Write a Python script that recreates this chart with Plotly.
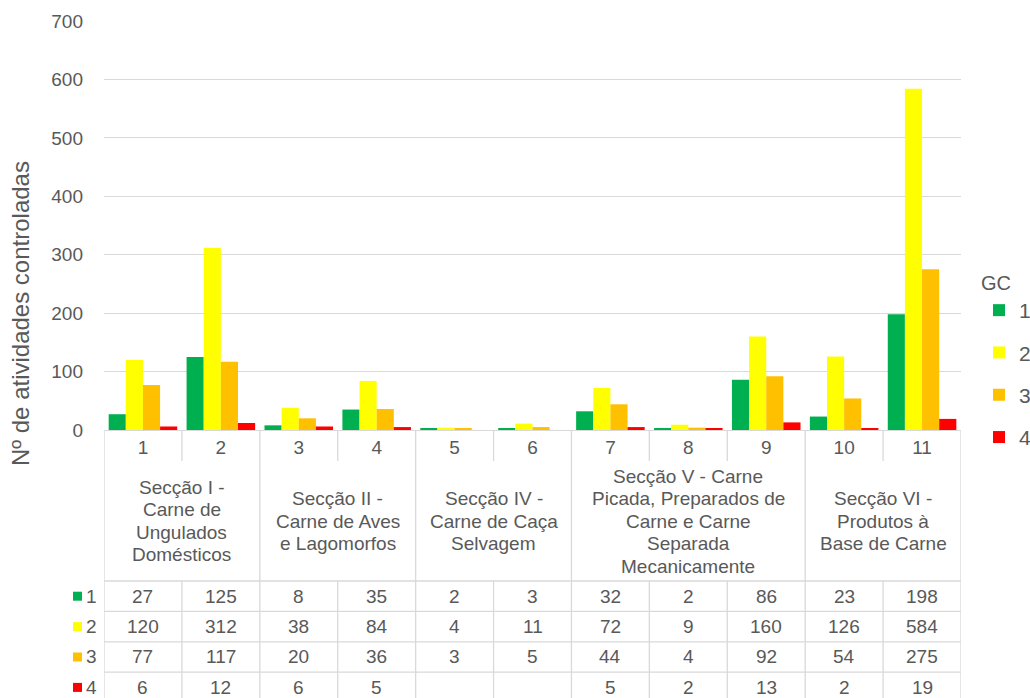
import plotly.graph_objects as go

# ---- data -------------------------------------------------------------
categories = ["1", "2", "3", "4", "5", "6", "7", "8", "9", "10", "11"]
gc1 = [27, 125, 8, 35, 2, 3, 32, 2, 86, 23, 198]
gc2 = [120, 312, 38, 84, 4, 11, 72, 9, 160, 126, 584]
gc3 = [77, 117, 20, 36, 3, 5, 44, 4, 92, 54, 275]
gc4 = [6, 12, 6, 5, None, None, 5, 2, 13, 2, 19]
series_names = ["1", "2", "3", "4"]
series_colors = ["#00B050", "#FFFF00", "#FFC000", "#FF0000"]

section_lines = [
    ["Secção I -", "Carne de", "Ungulados", "Domésticos"],
    ["Secção II -", "Carne de Aves", "e Lagomorfos"],
    ["Secção IV -", "Carne de Caça", "Selvagem"],
    ["Secção V - Carne", "Picada, Preparados de", "Carne e Carne", "Separada", "Mecanicamente"],
    ["Secção VI -", "Produtos à", "Base de Carne"],
]
section_spans = [2, 2, 2, 3, 2]

y_ticks = [0, 100, 200, 300, 400, 500, 600, 700]
y_title = "Nº de atividades controladas"
legend_title = "GC"

# ---- geometry / style -------------------------------------------------
W, H = 1030, 698
ML, MR, MT, MB = 104, 69, 21, 268
PW = W - ML - MR
PH = H - MT - MB
TEXT = "#595959"
GRID = "#D9D9D9"
FONT = "Liberation Sans, Arial, sans-serif"


def py(pix):
    """pixel row -> paper y"""
    return (H - MB - pix) / PH


def px(pix):
    """pixel column -> paper x"""
    return (pix - ML) / PW


series = [gc1, gc2, gc3, gc4]

fig = go.Figure()
for name, vals, col in zip(series_names, series, series_colors):
    fig.add_trace(go.Bar(
        x=categories, y=vals, name=name, marker_color=col,
        marker_line_width=0, legendgroup=name,
    ))

n = len(categories)
shapes = []
annotations = []


def line(x0, y0, x1, y1, xref="x"):
    shapes.append(dict(type="line", xref=xref, yref="paper", x0=x0, x1=x1,
                       y0=y0, y1=y1, line=dict(color=GRID, width=1.3),
                       layer="above"))


# table geometry (pixel rows)
row_num_bottom = 461
sec_bottom = 581
row_h = 30.4
table_bottom = H + 4
left_col = -0.5 - (ML - 65) / (PW / n)

# section boundaries
bounds = [0]
for s in section_spans:
    bounds.append(bounds[-1] + s)

for k in range(n + 1):
    xb = k - 0.5
    if k in bounds:
        line(xb, py(H - MB), xb, py(table_bottom))
    else:
        line(xb, py(H - MB), xb, py(row_num_bottom))
        line(xb, py(sec_bottom), xb, py(table_bottom))

# left header column of the data table
line(left_col, py(sec_bottom), left_col, py(table_bottom))
for r in range(4):
    yy = sec_bottom + r * row_h
    line(left_col, py(yy), n - 0.5, py(yy))

# section labels
line_gap = 22.5
sec_center = 521
for lines, a, b in zip(section_lines, bounds[:-1], bounds[1:]):
    xc = (a + b - 1) / 2
    nl = len(lines)
    for i, t in enumerate(lines):
        yy = sec_center + (i - (nl - 1) / 2) * line_gap
        annotations.append(dict(
            x=xc, y=py(yy), xref="x", yref="paper", text=t, showarrow=False,
            xanchor="center", yanchor="middle",
            font=dict(size=19, color=TEXT, family=FONT)))

# data rows
for r, (name, vals, col) in enumerate(zip(series_names, series, series_colors)):
    yc = sec_bottom + (r + 0.5) * row_h
    for j, v in enumerate(vals):
        if v is None:
            continue
        annotations.append(dict(
            x=j, y=py(yc), xref="x", yref="paper", text=str(v), showarrow=False,
            xanchor="center", yanchor="middle",
            font=dict(size=19, color=TEXT, family=FONT)))
    # key square + series label
    shapes.append(dict(type="rect", xref="paper", yref="paper",
                       x0=px(73), x1=px(82), y0=py(yc + 4.5), y1=py(yc - 4.5),
                       fillcolor=col, line_width=0, layer="above"))
    annotations.append(dict(
        x=px(84), y=py(yc), xref="paper", yref="paper", text=name,
        showarrow=False, xanchor="left", yanchor="middle",
        font=dict(size=19, color=TEXT, family=FONT)))

# y-axis title
annotations.append(dict(
    x=px(20), y=py(314), xref="paper", yref="paper", text=y_title,
    showarrow=False, textangle=-90, xanchor="center", yanchor="middle",
    font=dict(size=24, color=TEXT, family=FONT)))

fig.update_layout(
    width=W, height=H,
    margin=dict(l=ML, r=MR, t=MT, b=MB, autoexpand=False),
    paper_bgcolor="white", plot_bgcolor="white",
    barmode="group", bargap=0.12, bargroupgap=0,
    font=dict(family=FONT, color=TEXT, size=19),
    shapes=shapes, annotations=annotations,
    legend=dict(
        title=dict(text=legend_title, font=dict(size=20, color=TEXT)),
        font=dict(size=21, color=TEXT),
        x=px(979), xanchor="left", y=py(264), yanchor="top",
        tracegroupgap=12, bgcolor="rgba(0,0,0,0)",
    ),
    xaxis=dict(
        type="category", range=[-0.5, n - 0.5],
        showline=True, linecolor=GRID, linewidth=1.3,
        showgrid=False, ticks="", tickfont=dict(size=19, color=TEXT),
    ),
    yaxis=dict(
        range=[0, 700], tickvals=y_ticks, showgrid=True, gridcolor=GRID,
        gridwidth=1.3, zeroline=False, showline=False, ticks="",
        ticklabelstandoff=20, tickfont=dict(size=19, color=TEXT),
    ),
)

fig.write_html("out.html")
